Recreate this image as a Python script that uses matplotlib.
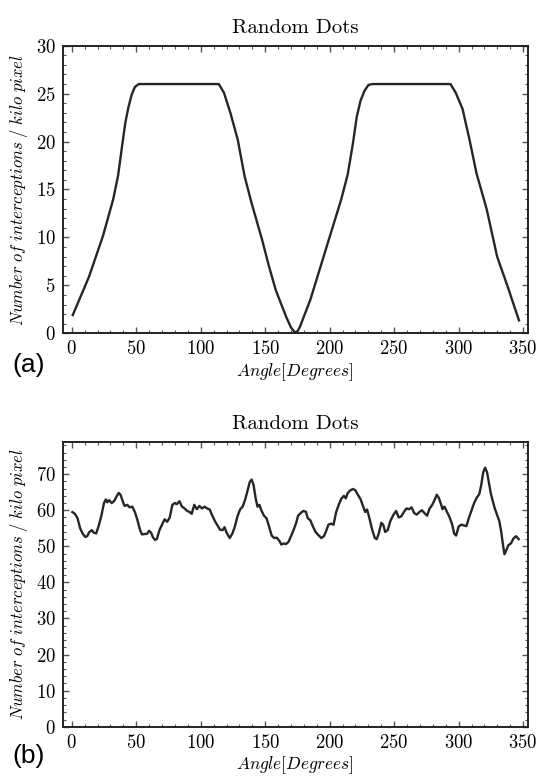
import matplotlib
matplotlib.use('Agg')
import matplotlib.pyplot as plt
from matplotlib.ticker import MultipleLocator

plt.rcParams['mathtext.fontset'] = 'cm'
plt.rcParams['font.family'] = 'cmr10'
plt.rcParams['axes.formatter.use_mathtext'] = True

LINE = '#262626'

# (a) random dots, interceptions vs angle
angle_a = [0.8, 13.4, 24.1, 32.2, 36, 39, 41.6, 44, 46.5, 49, 52, 60, 80, 100, 112, 114,
           118, 123, 128.7, 134, 139.4, 147.5, 152.9, 158.2, 166.3, 170, 173, 175,
           177, 185, 193, 201, 209, 214, 218, 221, 224, 227, 230, 233, 250, 270, 290, 293.6,
           297.7, 303, 308.4, 313.8, 321.8, 329.8, 337.9, 346.7]
count_a = [1.9, 5.9, 10.1, 14.0, 16.5, 19.5, 22.0, 23.6, 24.9, 25.7, 26.0, 26.0, 26.0, 26.0, 26.0, 26.0,
           25.1, 23.0, 20.2, 16.4, 13.6, 9.8, 7.0, 4.5, 1.7, 0.6, 0.1, 0.2,
           0.7, 3.5, 7.0, 10.5, 14.0, 16.6, 19.8, 22.6, 24.3, 25.3, 25.9, 26.0, 26.0, 26.0, 26.0, 26.0,
           25.1, 23.4, 20.2, 16.7, 12.9, 8.0, 4.9, 1.35]

# (b) random dots, interceptions vs angle
angle_b = [0.5, 2.5, 4.5, 6.5, 8.5, 10.5, 12, 13.5, 15.5, 17, 19, 21, 23, 25, 26.5, 27.5,
           29, 31, 33, 35, 36.5, 38, 39.5, 41, 43, 45, 47, 49, 51, 53, 54.5, 56.5, 58.5,
           60, 61.5, 63, 64.5, 66, 68, 70, 72, 74, 76, 78, 80, 81.5, 83.5, 85.5, 87.5,
           89.5, 91.5, 93, 95, 97, 99, 101, 103, 105, 107, 109, 111, 113, 115, 117,
           118.5, 120, 122.5, 124.5, 126.5, 128.5, 130.5, 132.5, 134.5, 136, 138, 139.5,
           141, 142.5, 144, 145.5, 147, 149, 151, 153, 155, 157, 159, 161, 162.5, 164.5,
           166, 168, 170, 172, 174, 175.5, 177.5, 179.5, 181.5, 183, 185, 187, 189, 191,
           193.5, 195.5, 197, 199, 201, 203, 205, 207, 209, 211, 212.5, 214, 216, 218,
           220, 222, 224, 226, 227.5, 229, 231, 233, 235, 236.5, 238, 240, 241.5, 243,
           245, 247, 249.5, 251.5, 253.5, 255.5, 257.5, 259.5, 261.5, 263.5, 265.5,
           267.5, 269.5, 271.5, 273.5, 275.5, 277.5, 279.5, 281.5, 283, 284.5, 286,
           287.5, 289, 291, 293, 295, 296.5, 298, 300, 302, 304, 306, 308, 310, 312,
           314, 316, 317.5, 319, 320.5, 322, 323.5, 325, 326.5, 328, 330, 331.5, 333,
           334.5, 335.5, 337, 338.5, 340.5, 342.5, 344.5, 346.5]
count_b = [59.5, 59.0, 57.8, 55.0, 53.5, 52.6, 52.8, 53.9, 54.5, 53.8, 53.6, 55.8, 58.5,
           62.0, 63.0, 62.2, 62.8, 62.0, 62.6, 64.0, 64.8, 64.2, 62.5, 61.2, 61.5, 60.8,
           61.0, 59.5, 57.2, 54.5, 53.3, 53.4, 53.5, 54.3, 53.8, 52.5, 51.8, 52.0, 54.5,
           56.0, 57.5, 56.8, 58.0, 61.5, 62.0, 61.7, 62.5, 61.0, 60.5, 59.8, 59.5, 59.0,
           61.5, 60.3, 61.2, 60.5, 61.0, 60.5, 60.2, 58.5, 57.0, 55.8, 54.6, 54.5, 55.3,
           53.8, 52.3, 53.5, 55.5, 58.3, 60.2, 61.0, 63.0, 65.0, 67.8, 68.5, 67.0, 63.5,
           61.0, 61.5, 60.0, 58.5, 57.8, 55.5, 53.0, 52.3, 52.4, 51.5, 50.5, 50.8, 50.6,
           51.2, 52.8, 54.5, 56.5, 58.5, 59.2, 59.8, 59.6, 57.8, 57.2, 55.5, 54.0, 53.2,
           52.3, 52.8, 54.0, 56.0, 56.3, 56.0, 59.5, 61.5, 63.2, 64.0, 63.3, 64.8, 65.5,
           65.9, 65.5, 64.2, 63.0, 61.0, 59.5, 60.2, 57.5, 54.5, 52.3, 52.0, 53.5, 56.5,
           56.0, 54.0, 54.5, 57.0, 58.8, 59.8, 58.0, 58.3, 59.5, 60.5, 60.3, 60.8, 59.2,
           58.8, 59.5, 60.0, 59.2, 58.5, 60.5, 61.5, 63.0, 64.3, 63.5, 62.0, 60.3, 61.0,
           59.5, 58.0, 56.0, 53.5, 53.0, 55.5, 56.0, 55.8, 55.6, 58.0, 60.0, 62.0, 63.5,
           64.5, 67.0, 70.5, 71.8, 70.5, 67.5, 64.5, 62.5, 60.5, 58.5, 57.0, 54.0, 50.0,
           47.8, 49.0, 50.3, 50.8, 52.2, 52.8, 52.0]

TITLE = 'Random Dots'
XLABEL = r'$Angle[Degrees]$'
YLABEL = r'$Number\ of\ interceptions\ /\ kilo\ pixel$'


def style_axes(ax, ymax, ymajor, yminor):
    ax.set_xlim(-7, 353.5)
    ax.set_ylim(0, ymax)
    ax.xaxis.set_major_locator(MultipleLocator(50))
    ax.xaxis.set_minor_locator(MultipleLocator(10))
    ax.yaxis.set_major_locator(MultipleLocator(ymajor))
    ax.yaxis.set_minor_locator(MultipleLocator(yminor))
    ax.tick_params(which='both', direction='in', top=True, right=True,
                   labelsize=13.5, color='#555555')
    ax.tick_params(which='major', length=4, width=1.0, pad=5)
    ax.tick_params(which='minor', length=2, width=0.8)
    for sp in ax.spines.values():
        sp.set_linewidth(1.4)
        sp.set_color('#222222')
    ax.set_title(TITLE, fontsize=15, pad=9)
    ax.set_xlabel(XLABEL, fontsize=12.5, labelpad=2)
    ax.set_ylabel(YLABEL, fontsize=12, labelpad=4)


fig = plt.figure(figsize=(5.4, 7.76), dpi=100)

ax1 = fig.add_axes([0.1161, 0.5705, 0.8611, 0.3706])
ax1.plot(angle_a, count_a, color=LINE, linewidth=1.7)
style_axes(ax1, 30, 5, 1)

ax2 = fig.add_axes([0.1161, 0.0635, 0.8611, 0.3673])
ax2.plot(angle_b, count_b, color=LINE, linewidth=1.7)
style_axes(ax2, 79, 10, 2)

fig.text(0.053, 0.529, '(a)', family='Liberation Sans', fontsize=19,
         ha='center', va='center')
fig.text(0.053, 0.026, '(b)', family='Liberation Sans', fontsize=19,
         ha='center', va='center')

fig.savefig('out.png', dpi=100)
